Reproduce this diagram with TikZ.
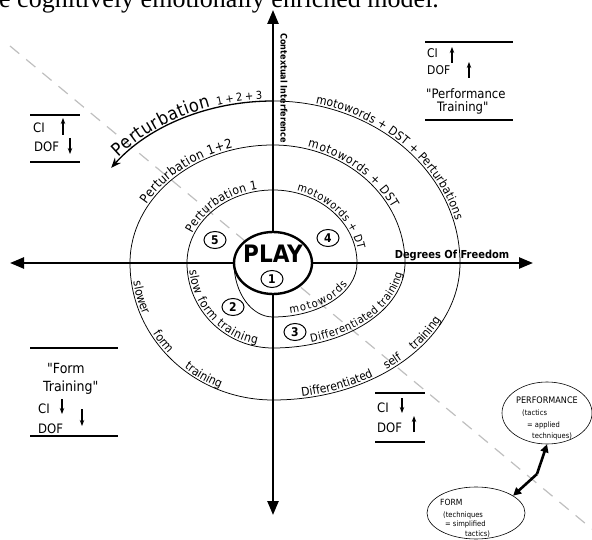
\documentclass[tikz,border=0pt]{standalone}
\usepackage{fontspec}
\setmainfont{Liberation Serif}
\newfontfamily\cf{DejaVu Sans Condensed}
\usetikzlibrary{arrows.meta,decorations.text,shapes.geometric,calc}
\newcommand\myfs[1]{\fontsize{#1}{#1}\selectfont}
\newcommand\arclabel[7]{%
  \path[decorate,decoration={text along path,raise=2pt,text align={#6},
    text={|\cf\myfs{#5}|#7}}]
    ($(C)+(#3:#1pt and #2pt)$) arc[start angle=#3,end angle=#4,x radius=#1pt,y radius=#2pt];}
\begin{document}
\begin{tikzpicture}[x=1pt,y=1pt,
  axis/.style={line width=2.4pt,-{Triangle[length=14pt,width=11pt]}},
  spiral/.style={line width=0.75pt},
  boxline/.style={line width=2.6pt},
  smallarrow/.style={line width=1.1pt,-{Stealth[length=6pt,width=4.5pt]}},
  boxtext/.style={anchor=base west,inner sep=0pt,font=\cf\myfs{13}},
  numc/.style={ellipse,draw,line width=1pt,fill=white,minimum width=22pt,minimum height=17pt,inner sep=0pt,font=\cf\bfseries\myfs{12}},
  oval/.style={ellipse,draw,line width=0.6pt,inner sep=0pt},
  ovaltext/.style={anchor=base west,inner sep=0pt,font=\cf\myfs{7.5}},
  bigarrow/.style={line width=2.6pt,-{Triangle[length=8pt,width=8pt]}}]
\useasboundingbox (0,0) rectangle (592,-540);

% cut-off caption line at the top
\node[anchor=base west,inner sep=0pt,font=\myfs{26}] (cap) at (-1,-8) {e cognitively emotionally enriched model.};

% dashed diagonal
\coordinate (d1) at (10,-46);
\coordinate (d2) at (592,-529);
\draw[black!25,line width=1.2pt,dash pattern=on 12pt off 9pt] (d1) -- (d2);

% spiral
\coordinate (C) at (273,-263);
\draw[spiral] (234,-263)
  arc[start angle=180,end angle=270,x radius=39pt,y radius=54pt]
  arc[start angle=270,end angle=360,x radius=84pt,y radius=54pt]
  arc[start angle=0,end angle=90,x radius=84pt,y radius=73pt]
  arc[start angle=90,end angle=180,x radius=86pt,y radius=73pt]
  arc[start angle=180,end angle=270,x radius=86pt,y radius=85pt]
  arc[start angle=270,end angle=360,x radius=132pt,y radius=85pt]
  arc[start angle=0,end angle=90,x radius=132pt,y radius=118pt]
  arc[start angle=90,end angle=180,x radius=143pt,y radius=118pt]
  arc[start angle=180,end angle=270,x radius=143pt,y radius=137pt]
  arc[start angle=270,end angle=360,x radius=187pt,y radius=137pt]
  arc[start angle=0,end angle=90,x radius=187pt,y radius=162pt];
\draw[line width=1.3pt,-{Stealth[length=10pt,width=8pt]}] (273,-101)
  arc[start angle=90,end angle=144,x radius=200pt,y radius=162pt];

% arc labels
\arclabel{84}{54}{282}{335}{11}{fit to path}{motowords}
\arclabel{84}{73}{74}{10}{11}{fit to path}{motowords + DT}
\arclabel{86}{73}{157}{100}{12}{fit to path}{Perturbation 1}
\arclabel{86}{85}{185}{259}{12}{fit to path}{slow form training}
\arclabel{132}{85}{287}{353}{11}{fit to path}{Differentiated training}
\arclabel{132}{118}{75}{27}{12}{fit to path}{motowords + DST}
\arclabel{143}{118}{151}{106}{13}{fit to path}{Perturbation 1+2}
\arclabel{143}{137}{188}{248}{12}{fit to path stretching spaces}{slower form training}
\arclabel{187}{137}{279}{335}{12}{fit to path stretching spaces}{Differentiated self training}
\arclabel{187}{162}{77}{15}{12}{fit to path}{motowords + DST + Perturbations}
\arclabel{200}{162}{140}{108}{18}{fit to path}{Perturbation}
\arclabel{200}{162}{106}{93}{11}{fit to path}{1+2+3}

% PLAY and axes
\node[ellipse,draw,line width=2.4pt,fill=white,minimum width=78pt,minimum height=62pt,inner sep=0pt] (play) at (273,-263) {};
\node[font=\cf\bfseries\myfs{24},inner sep=0pt] (playtxt) at (273,-254) {PLAY};
\coordinate (ytop) at (273,-10);
\coordinate (ybot) at (273,-515);
\coordinate (xleft) at (10,-263);
\coordinate (xright) at (533,-263);
\draw[axis] (play.north) -- (ytop);
\draw[axis] (play.south) -- (ybot);
\draw[axis] (play.west) -- (xleft);
\draw[axis] (play.east) -- (xright);

\node[font=\cf\bfseries\myfs{9},rotate=-90,inner sep=0pt] (ci) at (284,-88) {Contextual Interference};
\node[font=\cf\bfseries\myfs{11},anchor=base,inner sep=0pt] (dof) at (452,-259) {Degrees Of Freedom};

% numbered stages
\node[numc] (n1) at (272,-279) {1};
\node[numc] (n2) at (233,-307) {2};
\node[numc] (n3) at (295,-332) {3};
\node[numc] (n4) at (328,-238) {4};
\node[numc] (n5) at (215,-240) {5};

% upper-left box
\draw[boxline] (30,-115) -- (80,-115);
\draw[boxline] (30,-162) -- (80,-162);
\node[boxtext] (ul1) at (33,-133) {CI};
\draw[smallarrow] (63,-135) -- (63,-118);
\node[boxtext] (ul2) at (34,-152) {DOF};
\draw[smallarrow] (70,-138) -- (70,-154);

% upper-right box
\draw[boxline] (425,-42) -- (513,-42);
\draw[boxline] (425,-120) -- (513,-120);
\node[boxtext,font=\cf\myfs{12}] (ur1) at (427,-58) {CI};
\draw[smallarrow] (452,-63) -- (452,-47);
\node[boxtext,font=\cf\myfs{12}] (ur2) at (427,-75) {DOF};
\draw[smallarrow] (469,-78) -- (469,-62);
\node[boxtext] (ur3) at (426,-99) {"Performance};
\node[boxtext] (ur4) at (437,-112) {Training"};

% lower-left box
\draw[boxline] (30,-348) -- (118,-348);
\draw[boxline] (30,-436) -- (118,-436);
\node[boxtext,font=\cf\myfs{14}] (ll1) at (47,-373) {"Form};
\node[boxtext,font=\cf\myfs{14}] (ll2) at (43,-391) {Training"};
\node[boxtext] (ll3) at (38,-413) {CI};
\draw[smallarrow] (62,-399) -- (62,-414);
\node[boxtext] (ll4) at (38,-433) {DOF};
\draw[smallarrow] (82,-409) -- (82,-426);

% lower-right box
\draw[boxline] (375,-393) -- (425,-393);
\draw[boxline] (375,-442) -- (425,-442);
\node[boxtext] (lr1) at (377,-412) {CI};
\draw[smallarrow] (402,-398) -- (402,-413);
\node[boxtext] (lr2) at (377,-432) {DOF};
\draw[smallarrow] (414,-432) -- (414,-416);

% performance / form ovals
\node[oval,minimum width=90pt,minimum height=62pt] (perf) at (547,-413) {};
\node[ovaltext,font=\cf\myfs{9}] (p1) at (516,-403) {PERFORMANCE};
\node[ovaltext] (p2) at (522,-415) {(tactics};
\node[ovaltext] (p3) at (527,-427) {= applied};
\node[ovaltext] (p4) at (532,-438) {techniques)};

\node[oval,minimum width=98pt,minimum height=52pt] (form) at (476,-513) {};
\node[ovaltext,font=\cf\myfs{8.5}] (f1) at (440,-505) {FORM};
\node[ovaltext] (f2) at (443,-517) {(techniques};
\node[ovaltext] (f3) at (445,-526) {= simplified};
\node[ovaltext] (f4) at (465,-536) {tactics)};

\coordinate (m) at (537,-474);
\draw[bigarrow] (m) -- (perf.south);
\draw[bigarrow] (m) -- (form.25);
\end{tikzpicture}
\end{document}
